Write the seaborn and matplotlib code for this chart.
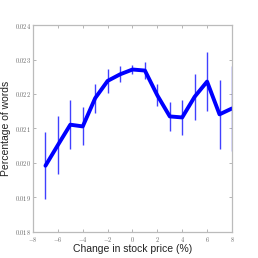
"""
Percentage of words vs change in stock price.
"""

import matplotlib
matplotlib.use('Agg')
import matplotlib.pyplot as plt
import matplotlib.ticker as mticker
import seaborn as sns
import pandas as pd

# Dados
variacao = [-7, -6, -5, -4, -3, -2, -1, 0, 1, 2, 3, 4, 5, 6, 7, 8]
percentual = [0.01992, 0.02052, 0.02111, 0.02106, 0.02188, 0.02238, 0.02257, 0.02271,
              0.02268, 0.02196, 0.02135, 0.02132, 0.02192, 0.02236, 0.02141, 0.02158]
erro = [0.00097, 0.00083, 0.00071, 0.00055, 0.00042, 0.00034, 0.00023, 0.00014,
        0.00025, 0.00032, 0.00042, 0.00052, 0.00067, 0.00085, 0.00100, 0.00122]
xticks = [-8, -6, -4, -2, 0, 2, 4, 6, 8]
yticks = [0.018, 0.019, 0.020, 0.021, 0.022, 0.023, 0.024]

sns.set_theme(style="white")
plt.rcParams['font.family'] = ['Liberation Sans', 'DejaVu Sans']
plt.rcParams['mathtext.fontset'] = 'cm'

df = pd.DataFrame({'x': variacao, 'y': percentual, 'err': erro})

fig = plt.figure(figsize=(2.58, 2.58), dpi=100)
ax = fig.add_axes([0.128, 0.101, 0.771, 0.802])

ax.errorbar(df['x'], df['y'], yerr=df['err'], fmt='none', ecolor='blue',
            elinewidth=1.0, alpha=0.75, capsize=0)
sns.lineplot(data=df, x='x', y='y', color='blue', linewidth=2.8, ax=ax)

ax.set_xlim(-8, 8)
ax.set_ylim(0.018, 0.024)
ax.set_xticks(xticks)
ax.set_yticks(yticks)
ax.xaxis.set_major_formatter(mticker.FuncFormatter(lambda v, p: r'$%d$' % v))
ax.yaxis.set_major_formatter(mticker.FuncFormatter(lambda v, p: r'$%.3f$' % v))
ax.tick_params(axis='both', which='major', direction='in', length=2.5, width=0.6,
               colors='#aaaaaa', labelcolor='#666666', labelsize=4.5,
               top=True, right=True, bottom=True, left=True)
ax.tick_params(axis='x', pad=2.2)
ax.tick_params(axis='y', pad=1.5)

for s in ax.spines.values():
    s.set_color('#bbbbbb')
    s.set_linewidth(0.9)

ax.set_xlabel('Change in stock price (%)', fontsize=7.5, color='#222222', labelpad=0.0)
ax.set_ylabel('Percentage of words', fontsize=7.5, color='#222222', labelpad=3)

fig.savefig('out.png', dpi=100)
